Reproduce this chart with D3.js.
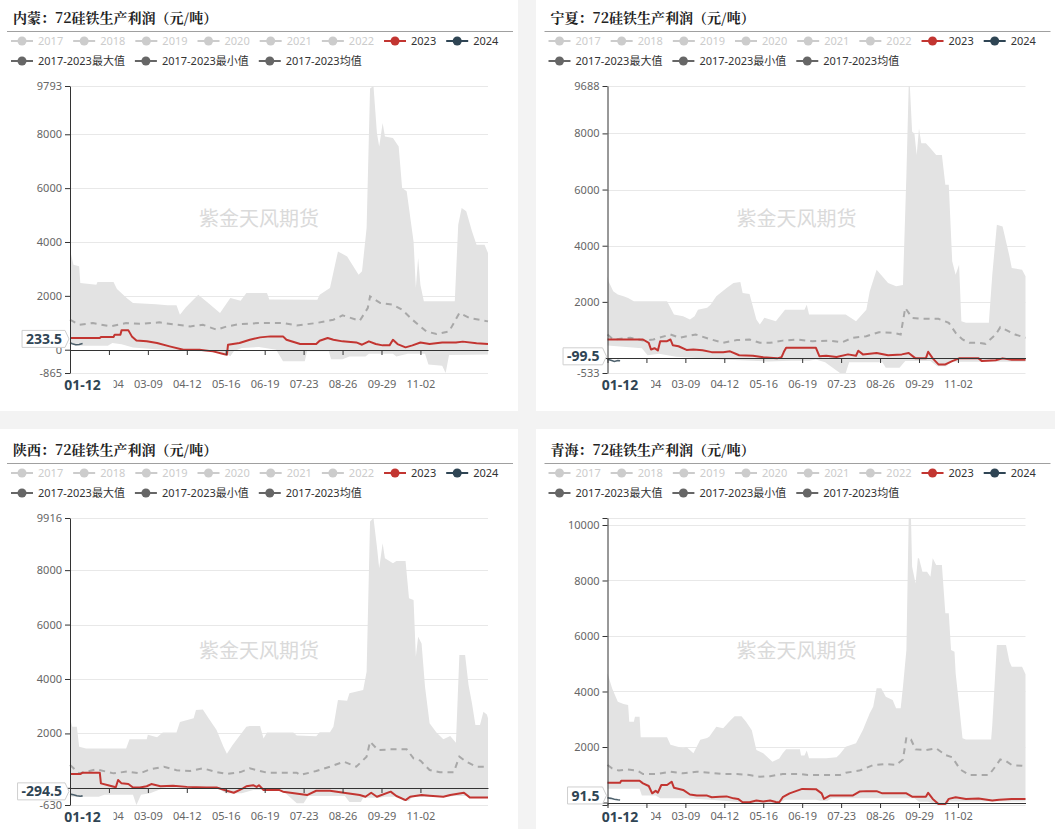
<!DOCTYPE html>
<html>
<head>
<meta charset="utf-8">
<script src="https://cdn.jsdelivr.net/npm/d3@7/dist/d3.min.js"></script>
<style>
    html, body { margin: 0; padding: 0; background: #f3f3f3; }
    svg { display: block; font-family: "Noto Sans", "Noto Sans CJK SC", sans-serif; }
</style>
</head>
<body>
<svg id="pane" width="1055" height="829"></svg>
<script>
(function () {
    'use strict';

    // x axis categories (MM-DD, leap-year calendar as in the source chart)
    var xTickLabels = ['01-01', '02-04', '03-09', '04-12', '05-16', '06-19', '07-23', '08-26', '09-29', '11-02'];
    var pointerDate = '01-12';
    var legendYears = ['2017', '2018', '2019', '2020', '2021', '2022', '2023', '2024'];
    var legendBands = ['2017-2023最大值', '2017-2023最小值', '2017-2023均值'];
    var titles = ['内蒙：72硅铁生产利润（元/吨）', '宁夏：72硅铁生产利润（元/吨）',
        '陕西：72硅铁生产利润（元/吨）', '青海：72硅铁生产利润（元/吨）'];
    var watermark = '紫金天风期货';

    // series points: [day of year (0 = 01-01), 元/吨]
    var nmMax = [[0, 3713], [3, 3156], [8, 3100], [9, 2480], [23, 2413], [24, 2513], [38, 2513], [41, 2250], [50, 1900],
        [55, 1733], [75, 1690], [85, 1650], [93, 1650], [96, 1300], [101, 1570], [112, 2042], [122, 1690], [131, 1362],
        [140, 1920], [149, 1815], [154, 2105], [172, 2105], [174, 1860], [216, 1857], [218, 2042], [227, 2290],
        [234, 3651], [242, 3465], [252, 2785], [255, 2909], [259, 4519], [262, 9700], [265, 9793], [268, 8045],
        [270, 7550], [273, 8416], [275, 7921], [282, 7859], [287, 7550], [290, 6004], [294, 5880], [300, 4023],
        [302, 2290], [304, 3403], [306, 2400], [309, 1795], [336, 1795], [339, 4642], [342, 5262], [346, 5138],
        [351, 4395], [355, 3900], [362, 3900], [365, 3590]];
    var nmMin = [[0, 300], [5, 150], [33, 150], [37, 250], [45, 200], [55, 80], [75, 20], [95, -30], [115, -60],
        [135, -120], [140, -240], [143, -60], [150, 60], [165, 100], [180, 0], [186, -430], [205, -430], [207, -60],
        [226, -60], [228, -350], [238, -350], [244, -250], [258, -250], [261, -150], [282, -150], [285, -250],
        [295, -150], [310, -150], [313, -550], [325, -600], [328, -865], [331, -200], [365, -180]];
    var nmAvg = [[0, 1114], [8, 928], [20, 990], [35, 866], [49, 990], [61, 960], [78, 1015], [93, 928], [105, 866],
        [116, 928], [128, 743], [137, 866], [148, 950], [166, 990], [186, 990], [198, 900], [215, 990], [230, 1114],
        [238, 1275], [253, 1076], [260, 1547], [262, 1980], [271, 1733], [282, 1671], [290, 1485], [299, 1114],
        [311, 681], [320, 582], [331, 680], [340, 1362], [349, 1176], [365, 1052]];
    var nm2023 = [[0, 433], [26, 433], [27, 470], [38, 470], [39, 557], [44, 557], [45, 718], [51, 718], [54, 495],
        [58, 346], [67, 310], [76, 248], [87, 124], [99, 0], [113, 0], [125, -62], [134, -160], [137, -190], [138, 185],
        [148, 248], [157, 372], [166, 458], [175, 495], [186, 495], [189, 372], [201, 210], [215, 210], [218, 333],
        [225, 433], [230, 372], [238, 310], [250, 270], [255, 186], [261, 310], [267, 210], [273, 161], [279, 161],
        [282, 370], [286, 210], [293, 87], [299, 161], [306, 270], [314, 210], [325, 270], [337, 270], [343, 300],
        [355, 240], [365, 210]];
    var nm2024 = [[0, 260], [2, 220], [5, 185], [8, 195], [11, 233.5]];

    var nxMax = [[0, 2909], [1, 2730], [5, 2377], [9, 2260], [14, 2200], [18, 2140], [23, 2021], [52, 2021], [55, 1787],
        [58, 1549], [66, 1490], [72, 1372], [76, 1490], [79, 1722], [87, 1787], [90, 1900], [95, 2200], [104, 2497],
        [110, 2675], [116, 2710], [118, 2320], [124, 2280], [130, 1372], [133, 1195], [137, 1431], [147, 1313],
        [155, 1722], [172, 1722], [174, 1900], [176, 1549], [208, 1549], [217, 1313], [226, 1722], [229, 2377],
        [235, 3147], [245, 2675], [252, 2556], [258, 2600], [261, 6522], [263, 9688], [264, 9688], [266, 8060],
        [268, 8000], [270, 7233], [272, 8178], [274, 7648], [278, 7648], [282, 7470], [287, 7233], [292, 7233],
        [295, 6167], [298, 6167], [301, 3443], [304, 2970], [307, 3325], [309, 1313], [313, 1254], [333, 1254],
        [336, 2970], [340, 4746], [345, 4687], [351, 3620], [353, 3207], [362, 3147], [365, 2909]];
    var nxMin = [[0, 450], [30, 350], [35, 100], [45, 150], [60, 50], [100, -50], [140, -120], [160, -100], [176, -100],
        [182, -50], [190, -150], [203, -533], [208, -533], [211, -150], [240, -150], [243, -345], [255, -345],
        [260, -110], [282, -110], [288, -290], [296, -290], [300, -130], [365, -130]];
    var nxAvg = [[0, 838], [5, 660], [20, 720], [31, 625], [40, 660], [55, 838], [63, 720], [77, 838], [89, 680],
        [101, 542], [113, 640], [124, 660], [133, 542], [142, 542], [153, 620], [165, 660], [179, 600], [194, 620],
        [205, 566], [214, 720], [226, 779], [237, 920], [249, 900], [256, 838], [260, 1787], [266, 1431], [275, 1395],
        [289, 1395], [298, 1254], [304, 897], [310, 660], [316, 542], [324, 542], [330, 505], [339, 838], [343, 1100],
        [350, 956], [356, 838], [365, 720]];
    var nx2023 = [[0, 660], [31, 660], [36, 542], [38, 305], [41, 350], [44, 270], [46, 600], [52, 600], [55, 660],
        [57, 457], [62, 420], [69, 289], [75, 300], [83, 280], [91, 210], [101, 210], [107, 240], [115, 100], [127, 80],
        [136, 24], [148, -12], [152, 30], [154, 220], [156, 365], [182, 365], [185, 67], [191, 80], [200, 40],
        [210, 130], [217, 80], [219, 260], [223, 130], [235, 180], [245, 100], [257, 130], [263, 180], [269, -12],
        [278, -12], [280, 224], [284, -12], [289, -227], [295, -227], [301, -110], [307, -12], [324, -12], [327, -110],
        [339, -80], [345, -12], [353, -60], [365, -60]];
    var nx2024 = [[0, -40], [3, -80], [6, -120], [9, -90], [11, -99.5]];

    var sxMax = [[0, 2555], [2, 2246], [6, 2246], [8, 1511], [14, 1450], [49, 1450], [52, 1783], [67, 1783], [68, 1949],
        [76, 1860], [81, 2030], [93, 2030], [96, 2420], [108, 2555], [110, 2860], [116, 2880], [121, 2555], [128, 2123],
        [134, 1511], [137, 1250], [142, 1572], [154, 2246], [157, 2270], [166, 2270], [169, 1817], [172, 2030],
        [195, 2030], [198, 1920], [215, 1900], [218, 2040], [227, 2040], [230, 2246], [234, 3228], [242, 3200],
        [244, 3474], [256, 3600], [259, 4268], [262, 9783], [265, 9916], [268, 8864], [270, 8065], [273, 8988],
        [275, 8437], [282, 8250], [285, 8340], [293, 8340], [296, 6967], [300, 6900], [302, 4820], [304, 5557],
        [307, 5300], [310, 3717], [314, 2371], [320, 2030], [326, 1784], [332, 1905], [337, 1660], [340, 4882],
        [345, 4882], [348, 3780], [351, 3105], [354, 2307], [358, 2307], [361, 2798], [364, 2700], [365, 2555]];
    var sxMin = [[0, -330], [25, -330], [30, -250], [55, -250], [58, -630], [62, -250], [70, -200], [80, -30],
        [130, -30], [136, -200], [150, -200], [160, -80], [185, -80], [198, -570], [204, -570], [208, -300], [240, -300],
        [244, -520], [254, -520], [256, -360], [270, -360], [275, -330], [288, -330], [291, -480], [296, -480],
        [299, -340], [330, -340], [335, -300], [348, -300], [350, -380], [365, -380]];
    var sxAvg = [[0, 838], [8, 533], [23, 680], [38, 533], [50, 600], [61, 533], [70, 680], [82, 778], [93, 650],
        [105, 620], [116, 717], [128, 580], [137, 509], [149, 580], [157, 717], [172, 558], [198, 558], [201, 472],
        [215, 620], [227, 778], [239, 961], [250, 778], [259, 1145], [262, 1696], [269, 1390], [280, 1414], [294, 1414],
        [300, 1083], [306, 1000], [314, 655], [323, 570], [335, 570], [340, 1145], [346, 961], [355, 778], [365, 778]];
    var sx2023 = [[0, 507], [9, 507], [11, 556], [26, 556], [27, 165], [35, 78], [40, 20], [42, 287], [45, 165],
        [51, 140], [55, 12], [61, 12], [67, 60], [71, 140], [79, 60], [90, 80], [102, 36], [119, 12], [128, 12],
        [137, -105], [143, -180], [151, -20], [154, 60], [160, 98], [163, 36], [165, 98], [169, -81], [183, -81],
        [186, -140], [207, -265], [215, -106], [227, -106], [239, -180], [253, -265], [258, -327], [263, -180],
        [268, -327], [280, -140], [285, -300], [293, -449], [297, -327], [307, -265], [314, -290], [326, -327],
        [332, -265], [344, -180], [349, -350], [365, -350]];
    var sx2024 = [[0, -230], [3, -250], [6, -290], [9, -310], [11, -294.5]];

    var qhMax = [[0, 4656], [4, 4115], [9, 3633], [14, 3550], [18, 3512], [19, 2912], [23, 2912], [24, 3090], [28, 3090],
        [29, 2350], [52, 2350], [55, 2079], [66, 1953], [69, 2000], [75, 1772], [81, 2265], [87, 2325], [89, 2380],
        [95, 2732], [101, 2680], [107, 2950], [111, 3110], [117, 3110], [121, 2912], [126, 2600], [130, 1892],
        [136, 1771], [144, 1470], [150, 1590], [153, 1772], [156, 1917], [168, 1917], [169, 1690], [172, 1690],
        [174, 1872], [176, 1595], [191, 1595], [200, 1630], [203, 1750], [208, 2012], [217, 2132], [223, 2613],
        [229, 3214], [232, 3454], [235, 4115], [239, 4115], [243, 3815], [249, 3695], [252, 3394], [256, 3394],
        [258, 4175], [261, 5495], [263, 10252], [265, 10252], [266, 8498], [269, 7896], [271, 8798], [272, 8798],
        [275, 8317], [279, 8317], [282, 8137], [284, 8798], [287, 8557], [292, 8557], [295, 6818], [298, 6818],
        [300, 5495], [303, 5435], [304, 4655], [307, 3514], [310, 2313], [313, 2273], [335, 2273], [336, 2790],
        [340, 5676], [348, 5676], [351, 5075], [353, 4895], [362, 4895], [365, 4619]];
    var qhMin = [[0, 500], [28, 500], [30, 250], [42, 250], [46, 150], [70, 150], [90, 100], [112, 30], [118, -15],
        [150, -15], [155, 100], [182, 100], [186, 60], [192, 60], [196, 150], [268, 150], [272, 30], [280, 30],
        [288, -90], [296, -90], [299, 40], [365, 40]];
    var qhAvg = [[0, 1351], [4, 1230], [10, 1150], [17, 1190], [26, 1150], [31, 1027], [43, 1027], [55, 1110],
        [66, 1050], [78, 1110], [89, 1070], [101, 1027], [113, 1027], [124, 990], [133, 930], [142, 950], [153, 1027],
        [168, 1027], [175, 990], [203, 990], [208, 1070], [220, 1150], [232, 1351], [243, 1390], [252, 1351],
        [258, 1550], [261, 2350], [265, 2270], [269, 1914], [278, 1890], [287, 1950], [295, 1712], [301, 1630],
        [308, 1191], [316, 990], [333, 990], [339, 1311], [343, 1552], [348, 1490], [353, 1351], [365, 1311]];
    var qh2023 = [[0, 714], [11, 714], [12, 786], [28, 786], [31, 690], [36, 594], [39, 331], [42, 420], [44, 355],
        [47, 630], [52, 630], [56, 750], [58, 534], [66, 454], [72, 289], [78, 250], [87, 250], [91, 190], [98, 210],
        [104, 220], [110, 150], [114, 130], [118, 10], [124, 10], [130, 70], [136, 35], [142, 70], [147, 20], [150, 10],
        [153, 190], [159, 330], [170, 490], [182, 480], [187, 330], [189, 130], [194, 250], [214, 250], [220, 395],
        [226, 410], [235, 410], [240, 330], [261, 330], [266, 210], [278, 210], [280, 350], [284, 130], [289, -54],
        [295, -54], [298, 130], [304, 190], [313, 130], [324, 145], [336, 70], [342, 100], [353, 130], [365, 130]];
    var qh2024 = [[0, 170], [3, 150], [6, 120], [9, 100], [11, 91.5]];

    var panels = [
        {title: titles[0], max: nmMax, min: nmMin, avg: nmAvg, y2023: nm2023, y2024: nm2024},
        {title: titles[1], max: nxMax, min: nxMin, avg: nxAvg, y2023: nx2023, y2024: nx2024},
        {title: titles[2], max: sxMax, min: sxMin, avg: sxAvg, y2023: sx2023, y2024: sx2024},
        {title: titles[3], max: qhMax, min: qhMin, avg: qhAvg, y2023: qh2023, y2024: qh2024}
    ];

    // layout
    var PANES = [
        {bg: [0, 0, 518, 411], x: 0, y: 0},
        {bg: [536, 0, 519, 411], x: 537.5, y: 0},
        {bg: [0, 429, 518, 400], x: 0, y: 432},
        {bg: [536, 429, 519, 400], x: 537.5, y: 432}
    ];
    var PLOT = {left: 70, right: 488, top: 86, bottom: 373};
    var LEGEND_Y = [41, 61];
    var Y_STEP = 2000;
    var POINTER_OFFSET = 4.5;

    var COLOR = {
        red: '#c23531',
        dark: '#2f4554',
        inactive: '#cccccc',
        band: '#e3e3e3',
        avg: '#a8a8a8',
        bandLegend: '#666666',
        axis: '#333333',
        label: '#666666',
        grid: '#e8e8e8'
    };

    var parseDate = d3.timeParse('%Y-%m-%d');
    var yearStart = parseDate('2024-01-01');

    function dayIndex(mmdd) {
        return d3.timeDay.count(yearStart, parseDate('2024-' + mmdd));
    }

    var tickDays = xTickLabels.map(dayIndex);
    var pointerDay = dayIndex(pointerDate);

    var svg = d3.select('#pane');

    function renderLegend(g) {
        var rows = [
            legendYears.map(function (year) {
                var color = year === '2023' ? COLOR.red : (year === '2024' ? COLOR.dark : COLOR.inactive);
                return {name: year, color: color, text: year >= '2023' ? '#333' : COLOR.inactive};
            }),
            legendBands.map(function (name) {
                return {name: name, color: COLOR.bandLegend, text: '#333'};
            })
        ];
        rows.forEach(function (row, i) {
            var x = 11;
            var cy = LEGEND_Y[i];
            row.forEach(function (item) {
                g.append('line')
                    .attr('x1', x).attr('x2', x + 22)
                    .attr('y1', cy).attr('y2', cy)
                    .attr('stroke', item.color)
                    .attr('stroke-width', 2);
                g.append('circle')
                    .attr('cx', x + 11).attr('cy', cy)
                    .attr('r', 4.5)
                    .attr('fill', item.color);
                var text = g.append('text')
                    .attr('x', x + 27).attr('y', cy)
                    .attr('dy', '0.35em')
                    .attr('font-size', 11)
                    .attr('fill', item.text)
                    .text(item.name);
                x += 27 + text.node().getComputedTextLength() + 10;
            });
        });
    }

    function yTickValues(domain) {
        var ticks = d3.range(Math.ceil(domain[0] / Y_STEP) * Y_STEP, domain[1], Y_STEP);
        return [domain[0]].concat(ticks, [domain[1]]);
    }

    function lastValue(series) {
        return series[series.length - 1][1];
    }

    function renderPointerLabels(g, x, y, panel) {
        var value = lastValue(panel.y2024);
        var cy = y(value) - POINTER_OFFSET;
        var right = PLOT.left - 5;

        var yLabel = g.append('g');
        var outline = yLabel.append('path');
        var text = yLabel.append('text')
            .attr('x', right - 3).attr('y', cy)
            .attr('dy', '0.36em')
            .attr('text-anchor', 'end')
            .attr('font-size', 14)
            .attr('font-weight', 'bold')
            .attr('fill', COLOR.dark)
            .text(String(value));
        var left = right - text.node().getComputedTextLength() - 7;
        outline.attr('d', 'M' + left + ',' + (cy - 8.5) + 'H' + right + 'L' + (right + 4) + ',' + cy +
            'L' + right + ',' + (cy + 8.5) + 'H' + left + 'Z')
            .attr('fill', '#fff')
            .attr('stroke', '#cfcfcf');

        var cx = x(pointerDay);
        g.append('rect')
            .attr('x', cx - 31).attr('y', PLOT.bottom + 4)
            .attr('width', 62).attr('height', 17)
            .attr('fill', '#fff');
        g.append('text')
            .attr('x', cx).attr('y', PLOT.bottom + 16.5)
            .attr('text-anchor', 'middle')
            .attr('font-size', 14)
            .attr('font-weight', 'bold')
            .attr('fill', COLOR.dark)
            .text(pointerDate);
    }

    function renderPanel(panel, pane) {
        svg.append('rect')
            .attr('x', pane.bg[0]).attr('y', pane.bg[1])
            .attr('width', pane.bg[2]).attr('height', pane.bg[3])
            .attr('fill', '#fff');

        var g = svg.append('g').attr('transform', 'translate(' + pane.x + ',' + pane.y + ')');

        g.append('text')
            .attr('x', 13).attr('y', 23)
            .attr('font-family', '"Noto Serif CJK SC", "Noto Sans CJK SC", serif')
            .attr('font-size', 14)
            .attr('font-weight', 'bold')
            .attr('fill', '#222')
            .text(panel.title);
        g.append('line')
            .attr('x1', 7).attr('x2', 513)
            .attr('y1', 31.5).attr('y2', 31.5)
            .attr('stroke', '#a0a0a0');

        renderLegend(g);

        var all = [panel.max, panel.min, panel.avg, panel.y2023, panel.y2024];
        var domain = d3.extent(d3.merge(all), function (d) { return d[1]; });
        var x = d3.scaleLinear().domain([0, 365]).range([PLOT.left, PLOT.right]);
        var y = d3.scaleLinear().domain(domain).range([PLOT.bottom, PLOT.top]);
        var yTicks = yTickValues(domain);
        var pointerY = y(lastValue(panel.y2024)) - POINTER_OFFSET;
        var pointerX = x(pointerDay);

        g.append('text')
            .attr('x', 259).attr('y', 226)
            .attr('text-anchor', 'middle')
            .attr('font-family', '"Noto Sans CJK SC", sans-serif')
            .attr('font-size', 20)
            .attr('fill', '#dadada')
            .text(watermark);

        g.append('g').selectAll('line')
            .data(yTicks)
            .enter()
            .append('line')
            .attr('x1', PLOT.left).attr('x2', PLOT.right)
            .attr('y1', function (d) { return Math.round(y(d)) + 0.5; })
            .attr('y2', function (d) { return Math.round(y(d)) + 0.5; })
            .attr('stroke', COLOR.grid);

        var line = d3.line()
            .x(function (d) { return x(d[0]); })
            .y(function (d) { return y(d[1]); });

        // band between 2017-2023 max and min
        g.append('path')
            .attr('d', line(panel.max.concat(panel.min.slice().reverse())) + 'Z')
            .attr('fill', COLOR.band);

        g.append('path')
            .attr('d', line(panel.avg))
            .attr('fill', 'none')
            .attr('stroke', COLOR.avg)
            .attr('stroke-width', 2)
            .attr('stroke-dasharray', '6,5');

        g.append('path')
            .attr('d', line(panel.y2023))
            .attr('fill', 'none')
            .attr('stroke', COLOR.red)
            .attr('stroke-width', 2)
            .attr('stroke-linejoin', 'round');

        g.append('path')
            .attr('d', line(panel.y2024))
            .attr('fill', 'none')
            .attr('stroke', COLOR.dark)
            .attr('stroke-opacity', 0.85)
            .attr('stroke-width', 1.6);

        // y axis: min / max labels dropped where they crowd a regular tick,
        // labels sitting under the pointer box are not drawn
        var tickPx = yTicks.slice(1, -1).map(y);
        var yAxis = d3.axisLeft(y)
            .tickValues(yTicks)
            .tickSize(5)
            .tickSizeOuter(0)
            .tickPadding(3)
            .tickFormat(function (d, i) {
                var isEnd = i === 0 || i === yTicks.length - 1;
                var crowded = tickPx.some(function (p) { return Math.abs(p - y(d)) < 12; });
                var covered = Math.abs(y(d) - pointerY) < 9.5;
                return (isEnd && crowded) || covered ? '' : String(d);
            });
        var yAxisG = g.append('g')
            .attr('transform', 'translate(' + PLOT.left + ',0)')
            .call(yAxis);
        yAxisG.select('.domain').attr('stroke', COLOR.axis);
        yAxisG.selectAll('.tick line').attr('stroke', COLOR.axis);
        yAxisG.selectAll('text')
            .attr('font-size', 11)
            .attr('font-family', '"Noto Sans", sans-serif')
            .attr('fill', COLOR.label);

        // x axis line sits on zero, its labels stay at the bottom of the grid
        var xAxisG = g.append('g')
            .attr('transform', 'translate(0,' + Math.round(y(0)) + ')')
            .call(d3.axisBottom(x).tickValues(tickDays).tickFormat('').tickSize(5).tickSizeOuter(0));
        xAxisG.select('.domain').attr('stroke', COLOR.axis);
        xAxisG.selectAll('.tick line').attr('stroke', COLOR.axis);

        var xLabelsG = g.append('g')
            .attr('transform', 'translate(0,' + PLOT.bottom + ')')
            .call(d3.axisBottom(x).tickValues(tickDays).tickSize(0).tickPadding(7)
                .tickFormat(function (d, i) {
                    return Math.abs(x(d) - pointerX) < 20 ? '' : xTickLabels[i];
                }));
        xLabelsG.select('.domain').remove();
        xLabelsG.selectAll('text')
            .attr('font-size', 11)
            .attr('font-family', '"Noto Sans", sans-serif')
            .attr('fill', COLOR.label);

        renderPointerLabels(g, x, y, panel);
    }

    panels.forEach(function (panel, i) {
        renderPanel(panel, PANES[i]);
    });
})();
</script>
</body>
</html>
